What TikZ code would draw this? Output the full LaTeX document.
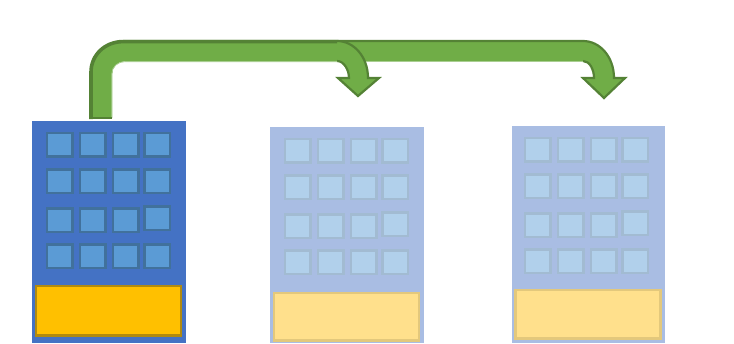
\documentclass[tikz,border=0pt]{standalone}
\usepackage{tikz}

\definecolor{wallfull}{HTML}{4472C4}
\definecolor{wallfade}{HTML}{A9BDE3}
\definecolor{winfull}{HTML}{5B9BD5}
\definecolor{winfulledge}{HTML}{41719C}
\definecolor{winfade}{HTML}{B1D0EB}
\definecolor{winfadeedge}{HTML}{A2BBD2}
\definecolor{doorfull}{HTML}{FFC000}
\definecolor{doorfulledge}{HTML}{B08A10}
\definecolor{doorfade}{HTML}{FFE08C}
\definecolor{doorfadeedge}{HTML}{E3C87C}
\definecolor{bentfill}{HTML}{70AD47}
\definecolor{bentedge}{HTML}{548235}

\tikzset{
	bentbody/.style={fill=bentfill},
	bentrim/.style={draw=bentedge, line width=2.2pt, line join=miter},
	bentlip/.style={draw=bentfill!60!white, line width=0.8pt},
	wallA/.style={fill=wallfull},
	winA/.style={fill=winfull, draw=winfulledge, line width=2.5pt},
	doorA/.style={fill=doorfull, draw=doorfulledge, line width=2.5pt},
	wallB/.style={fill=wallfade},
	winB/.style={fill=winfade, draw=winfadeedge, line width=2.5pt},
	doorB/.style={fill=doorfade, draw=doorfadeedge, line width=2.5pt},
}

% left, top, door top, door height, window left, variant
\newcommand{\officeblock}[6]{
	\fill[wall#6] (#1,#2) rectangle (#1+153.5,343);
	\foreach \col in {0,1,2}{
		\foreach \rowy in {0,36.5,75.5,111.5}{
			\draw[win#6] (#1+#5+33*\col,#2+12+\rowy) rectangle ++(25.5,23.5);
		}
	}
	\foreach \rowy in {0,36.5,73.5,111.5}{
		\draw[win#6] (#1+#5+97.5,#2+12+\rowy) rectangle ++(25.5,23.5);
	}
	\draw[door#6] (#1+4.2,#3) rectangle (#1+149,#3+#4);
}

\begin{document}
\begin{tikzpicture}[x=1pt, y=-1pt]
	\useasboundingbox (0,0) rectangle (734,343);
	\officeblock{32}{121}{286.2}{49.5}{15}{A}
	\officeblock{270}{127}{293.2}{47.5}{15}{B}
	\officeblock{511.5}{126}{290.2}{48.5}{13.5}{B}
	% long bend first, the short one lies over it
	\fill[bentbody] (90,118) -- (90,72) .. controls (90,54.4) and (105,41) .. (123,41)
		-- (583,41) .. controls (600,41) and (614,57) .. (614,78) -- (625,78) -- (604,98) -- (583,78) -- (594,78)
		.. controls (594,70) and (590,61) .. (583,61) -- (125,61) .. controls (117.8,61) and (112,66.8) .. (112,74) -- (112,118) -- cycle;
	\draw[bentrim] (123,41) -- (583,41) .. controls (600,41) and (614,57) .. (614,78) -- (625,78) -- (604,98) -- (583,78) -- (594,78)
		.. controls (594,70) and (590,61) .. (583,61);
	\draw[bentlip] (337,61.6) -- (583,61.6);
	% short bend
	\fill[bentbody] (90,118) -- (90,72) .. controls (90,54.4) and (105,41) .. (123,41)
		-- (337,41) .. controls (354,41) and (368,57) .. (368,78) -- (379,78) -- (358,96) -- (338,78) -- (349,78)
		.. controls (349,70) and (344,61) .. (337,61) -- (125,61) .. controls (117.8,61) and (112,66.8) .. (112,74) -- (112,118) -- cycle;
	\draw[bentrim] (337,41) .. controls (354,41) and (368,57) .. (368,78) -- (379,78) -- (358,96) -- (338,78) -- (349,78)
		.. controls (349,70) and (344,61) .. (337,61);
	\draw[bentlip] (111.8,117) -- (111.8,74) .. controls (111.8,66.8) and (117.8,61.6) .. (125,61.6) -- (337,61.6);
	% heavier on the outside of the bend
	\draw[bentrim, line width=3.6pt] (91,119) -- (91,72) .. controls (91,55) and (105,41.6) .. (123,41.6) -- (337,41.6);
	\draw[bentrim, line width=1.6pt] (89,118) -- (112.4,118);
\end{tikzpicture}
\end{document}
